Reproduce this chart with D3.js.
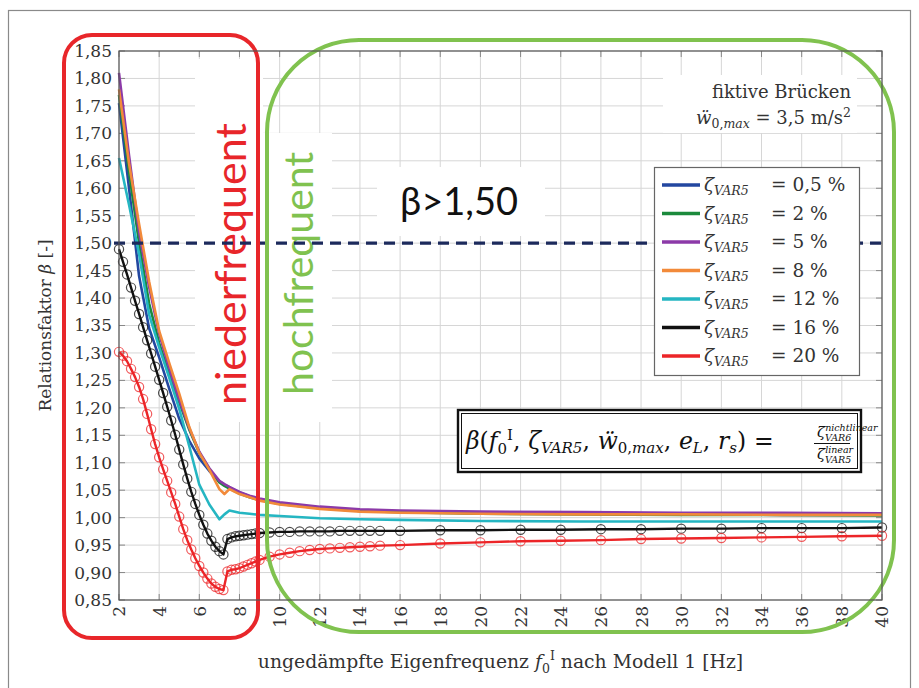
<!DOCTYPE html>
<html>
<head>
<meta charset="utf-8">
<script src="https://cdn.jsdelivr.net/npm/d3@7"></script>
<style>
  body { margin: 0; background: #fff; }
  svg { display: block; }
  .serif { font-family: "DejaVu Serif", serif; fill: #333; }
  .grid line { stroke: #d6d6d6; stroke-width: 1; }
  .tick-mark { stroke: #888; stroke-width: 1; }
</style>
</head>
<body>
<svg id="chart" width="919" height="688"></svg>
<script>
// frequencies for the plain (unmarked) curves
const fLines = [2, 2.5, 3, 3.5, 4, 4.5, 5, 5.5, 6, 6.5, 7, 7.25, 7.5, 8, 8.5, 9, 10, 12, 14, 16, 20, 25, 30, 35, 40];

const beta05 = [1.755, 1.600, 1.440, 1.345, 1.292, 1.235, 1.180, 1.140, 1.108, 1.085, 1.066, 1.060, 1.055, 1.046, 1.039, 1.033, 1.026, 1.018, 1.013, 1.011, 1.008, 1.007, 1.006, 1.005, 1.005];
const beta2 = [1.770, 1.630, 1.500, 1.390, 1.318, 1.262, 1.210, 1.160, 1.118, 1.088, 1.064, 1.058, 1.053, 1.044, 1.037, 1.032, 1.025, 1.017, 1.012, 1.010, 1.007, 1.006, 1.005, 1.005, 1.004];
const beta5 = [1.810, 1.660, 1.520, 1.420, 1.335, 1.272, 1.215, 1.163, 1.120, 1.090, 1.067, 1.061, 1.056, 1.047, 1.040, 1.035, 1.028, 1.020, 1.015, 1.013, 1.011, 1.010, 1.009, 1.009, 1.008];
const beta8 = [1.780, 1.645, 1.535, 1.430, 1.340, 1.282, 1.226, 1.165, 1.118, 1.087, 1.052, 1.043, 1.052, 1.043, 1.037, 1.031, 1.024, 1.016, 1.011, 1.009, 1.007, 1.006, 1.006, 1.005, 1.005];
const beta12 = [1.655, 1.570, 1.480, 1.370, 1.310, 1.255, 1.198, 1.130, 1.060, 1.024, 0.997, 1.006, 1.013, 1.009, 1.007, 1.005, 1.003, 0.999, 0.997, 0.996, 0.994, 0.993, 0.993, 0.993, 0.993];

// frequencies for the curves drawn with circle markers
const fMarked = [2.0, 2.2, 2.4, 2.6, 2.8, 3.0, 3.2, 3.4, 3.6, 3.8, 4.0, 4.2, 4.4, 4.6, 4.8, 5.0, 5.2, 5.4, 5.6, 5.8,
  6.0, 6.2, 6.4, 6.6, 6.8, 7.0, 7.2, 7.4, 7.6, 7.8, 8.0, 8.2, 8.4, 8.6, 8.8, 9.0,
  9.5, 10, 10.5, 11, 11.5, 12, 12.5, 13, 13.5, 14, 14.5, 15,
  16, 18, 20, 22, 24, 26, 28, 30, 32, 34, 36, 38, 40];

const beta16 = [1.489, 1.466, 1.443, 1.419, 1.395, 1.371, 1.347, 1.323, 1.299, 1.275, 1.251, 1.227, 1.202, 1.177, 1.151, 1.124, 1.097, 1.071, 1.047, 1.025,
  1.005, 0.987, 0.971, 0.958, 0.947, 0.939, 0.933, 0.961, 0.964, 0.966, 0.967, 0.968, 0.969, 0.970, 0.971, 0.972,
  0.973, 0.974, 0.974, 0.975, 0.975, 0.975, 0.975, 0.976, 0.976, 0.976, 0.976, 0.976,
  0.976, 0.977, 0.977, 0.978, 0.978, 0.979, 0.979, 0.980, 0.980, 0.981, 0.981, 0.981, 0.982];
const beta20 = [1.302, 1.295, 1.285, 1.271, 1.256, 1.238, 1.216, 1.189, 1.161, 1.134, 1.110, 1.088, 1.067, 1.046, 1.025, 1.002, 0.979, 0.959, 0.942, 0.926,
  0.912, 0.900, 0.889, 0.880, 0.874, 0.870, 0.868, 0.902, 0.905, 0.906, 0.908, 0.911, 0.914, 0.917, 0.920, 0.923,
  0.929, 0.933, 0.936, 0.939, 0.941, 0.943, 0.944, 0.945, 0.946, 0.947, 0.948, 0.949,
  0.950, 0.953, 0.955, 0.957, 0.958, 0.959, 0.961, 0.962, 0.963, 0.964, 0.965, 0.966, 0.967];

const zetaLabels = ["0,5", "2", "5", "8", "12", "16", "20"];
const zetaColors = ["#2347a0", "#1b8a3c", "#8c3aa8", "#f28a3a", "#25b6c2", "#111111", "#ec2528"];

const xTicks = [2, 4, 6, 8, 10, 12, 14, 16, 18, 20, 22, 24, 26, 28, 30, 32, 34, 36, 38, 40];
const yTicks = [0.85, 0.9, 0.95, 1.0, 1.05, 1.1, 1.15, 1.2, 1.25, 1.3, 1.35, 1.4, 1.45, 1.5, 1.55, 1.6, 1.65, 1.7, 1.75, 1.8, 1.85];
const betaLimit = 1.5;

const svg = d3.select("#chart");
const plot = { left: 119, top: 51, right: 882, bottom: 600 };

const x = d3.scaleLinear().domain([2, 40]).range([plot.left, plot.right]);
const y = d3.scaleLinear().domain([0.85, 1.85]).range([plot.bottom, plot.top]);

// outer frame
svg.append("rect")
  .attr("x", 8.5).attr("y", 10.5).attr("width", 902).attr("height", 700)
  .attr("fill", "none").attr("stroke", "#8a8a8a").attr("stroke-width", 1.2);

// grid
const grid = svg.append("g").attr("class", "grid");
grid.selectAll("line.v").data(xTicks).join("line").attr("class", "v")
  .attr("x1", (d) => x(d)).attr("x2", (d) => x(d))
  .attr("y1", plot.top).attr("y2", plot.bottom);
grid.selectAll("line.h").data(yTicks).join("line").attr("class", "h")
  .attr("x1", plot.left).attr("x2", plot.right)
  .attr("y1", (d) => y(d)).attr("y2", (d) => y(d));

// white backgrounds of the text nodes (they hide the grid)
const blanks = [
  [195, 59, 68, 363],
  [263, 133, 69, 289],
  [377, 167, 168, 69],
  [663, 75, 194, 58],
];
svg.append("g").selectAll("rect").data(blanks).join("rect")
  .attr("x", (d) => d[0]).attr("y", (d) => d[1])
  .attr("width", (d) => d[2]).attr("height", (d) => d[3])
  .attr("fill", "#fff");

// tick marks on all four sides
const tl = 6;
const ticks = svg.append("g");
xTicks.forEach((t) => {
  ticks.append("line").attr("class", "tick-mark")
    .attr("x1", x(t)).attr("x2", x(t)).attr("y1", plot.bottom).attr("y2", plot.bottom - tl);
  ticks.append("line").attr("class", "tick-mark")
    .attr("x1", x(t)).attr("x2", x(t)).attr("y1", plot.top).attr("y2", plot.top + tl);
});
yTicks.forEach((t) => {
  ticks.append("line").attr("class", "tick-mark")
    .attr("x1", plot.left).attr("x2", plot.left + tl).attr("y1", y(t)).attr("y2", y(t));
  ticks.append("line").attr("class", "tick-mark")
    .attr("x1", plot.right).attr("x2", plot.right - tl).attr("y1", y(t)).attr("y2", y(t));
});

// axes labels
const yAxisG = svg.append("g").attr("transform", `translate(${plot.left},0)`)
  .call(d3.axisLeft(y).tickValues(yTicks).tickSize(0).tickPadding(7)
    .tickFormat((d) => d.toFixed(2).replace(".", ",")));
yAxisG.select(".domain").remove();
yAxisG.selectAll("text").attr("class", "serif").style("font-size", "17px");

const xAxisG = svg.append("g").attr("transform", `translate(0,${plot.bottom})`)
  .call(d3.axisBottom(x).tickValues(xTicks).tickSize(0).tickFormat((d) => String(d)));
xAxisG.select(".domain").remove();
xAxisG.selectAll("text").attr("class", "serif").style("font-size", "17px")
  .attr("y", 0).attr("x", -6).attr("dy", "0.35em")
  .attr("transform", "rotate(-90)").style("text-anchor", "end");

// axis titles
svg.append("text").attr("class", "serif")
  .attr("transform", `translate(51,${(plot.top + plot.bottom) / 2}) rotate(-90)`)
  .attr("text-anchor", "middle").style("font-size", "17px")
  .call((t) => {
    t.append("tspan").text("Relationsfaktor ");
    t.append("tspan").style("font-style", "italic").text("β");
    t.append("tspan").text(" [-]");
  });

const xTitle = svg.append("text").attr("class", "serif")
  .attr("x", (plot.left + plot.right) / 2).attr("y", 668)
  .attr("text-anchor", "middle").style("font-size", "18.8px");
xTitle.append("tspan").text("ungedämpfte Eigenfrequenz ");
xTitle.append("tspan").style("font-style", "italic").text("f");
xTitle.append("tspan").attr("dy", 5).style("font-size", "12.5px").text("0");
xTitle.append("tspan").attr("dy", -13).style("font-size", "12.5px").text("I");
xTitle.append("tspan").attr("dy", 8).text(" nach Modell 1 [Hz]");

// curves
const line = d3.line().x((d) => x(d[0])).y((d) => y(d[1]));
const plainSeries = [beta05, beta2, beta5, beta8, beta12];
plainSeries.forEach((vals, i) => {
  svg.append("path")
    .datum(fLines.map((f, k) => [f, vals[k]]))
    .attr("d", line).attr("fill", "none")
    .attr("stroke", zetaColors[i]).attr("stroke-width", 2.6)
    .attr("stroke-linejoin", "round");
});

const markedSeries = [beta16, beta20];
markedSeries.forEach((vals, j) => {
  const col = zetaColors[5 + j];
  const pts = fMarked.map((f, k) => [f, vals[k]]);
  svg.append("path").datum(pts).attr("d", line).attr("fill", "none")
    .attr("stroke", col).attr("stroke-width", 2.4).attr("stroke-linejoin", "round");
  svg.append("g").selectAll("circle").data(pts).join("circle")
    .attr("cx", (d) => x(d[0])).attr("cy", (d) => y(d[1])).attr("r", 4.6)
    .attr("fill", "none").attr("stroke", col).attr("stroke-opacity", 0.75)
    .attr("stroke-width", 1.2);
});

// region labels
svg.append("text")
  .attr("transform", "translate(246,405) rotate(-90)")
  .style("font-family", "Lato, 'Open Sans', sans-serif").style("font-size", "43px")
  .attr("fill", "#e8262a").text("niederfrequent");
svg.append("text")
  .attr("transform", "translate(313,395) rotate(-90)")
  .style("font-family", "Lato, 'Open Sans', sans-serif").style("font-size", "41px")
  .attr("fill", "#80c24f").text("hochfrequent");

svg.append("text")
  .attr("x", 400).attr("y", 215)
  .style("font-family", "Lato, 'Open Sans', sans-serif").style("font-size", "38px")
  .attr("fill", "#111").text("β>1,50");

// annotation
svg.append("text").attr("class", "serif").attr("x", 851).attr("y", 98)
  .attr("text-anchor", "end").style("font-size", "18px").text("fiktive Brücken");
const ann = svg.append("text").attr("class", "serif").attr("x", 851).attr("y", 124)
  .attr("text-anchor", "end").style("font-size", "18px");
ann.append("tspan").style("font-style", "italic").text("ẅ");
ann.append("tspan").attr("dy", 4).style("font-size", "12.5px").text("0,");
ann.append("tspan").style("font-size", "12.5px").style("font-style", "italic").text("max");
ann.append("tspan").attr("dy", -4).text(" = 3,5 m/s");
ann.append("tspan").attr("dy", -7).style("font-size", "12.5px").text("2");

// limit line
svg.append("line")
  .attr("x1", plot.left - 5).attr("x2", plot.right)
  .attr("y1", y(betaLimit)).attr("y2", y(betaLimit))
  .attr("stroke", "#1c2a5c").attr("stroke-width", 3.4).attr("stroke-dasharray", "11 7");

// legend
const lg = svg.append("g");
lg.append("rect").attr("x", 654.5).attr("y", 167.5).attr("width", 205).attr("height", 208)
  .attr("fill", "#fff").attr("stroke", "#666").attr("stroke-width", 1.2);
zetaLabels.forEach((lab, i) => {
  const yy = 185 + i * 28.5;
  lg.append("line").attr("x1", 662).attr("x2", 700).attr("y1", yy).attr("y2", yy)
    .attr("stroke", zetaColors[i]).attr("stroke-width", 3.4);
  const t = lg.append("text").attr("class", "serif").attr("x", 704).attr("y", yy + 6)
    .style("font-size", "18.5px");
  t.append("tspan").style("font-style", "italic").text("ζ");
  t.append("tspan").attr("dy", 4).style("font-size", "12.5px").style("font-style", "italic").text("VAR5");
  t.append("tspan").attr("x", 771).attr("dy", -4).text(`= ${lab} %`);
});

// formula box
const fb = svg.append("g");
fb.append("rect").attr("x", 458).attr("y", 410).attr("width", 403).attr("height", 62)
  .attr("fill", "#fff").attr("stroke", "#111").attr("stroke-width", 2.4);
fb.append("rect").attr("x", 461.5).attr("y", 413.5).attr("width", 396).attr("height", 55)
  .attr("fill", "none").attr("stroke", "#111").attr("stroke-width", 1);
const ft = fb.append("text").attr("class", "serif").attr("x", 466).attr("y", 449)
  .style("font-size", "23.5px").style("fill", "#111");
const it = (s) => ft.append("tspan").style("font-style", "italic").text(s);
const sep = ",\u2004";
it("β");
ft.append("tspan").text("(");
it("f");
ft.append("tspan").attr("dy", 5).style("font-size", "15px").text("0");
ft.append("tspan").attr("dy", -14).style("font-size", "15px").text("I");
ft.append("tspan").attr("dy", 9).text(sep);
it("ζ");
ft.append("tspan").attr("dy", 4).style("font-size", "15px").style("font-style", "italic").text("VAR5");
ft.append("tspan").attr("dy", -4).text(sep);
it("ẅ");
ft.append("tspan").attr("dy", 4).style("font-size", "15px").text("0,");
ft.append("tspan").style("font-size", "15px").style("font-style", "italic").text("max");
ft.append("tspan").attr("dy", -4).text(sep);
it("e");
ft.append("tspan").attr("dy", 4).style("font-size", "15px").style("font-style", "italic").text("L");
ft.append("tspan").attr("dy", -4).text(sep);
it("r");
ft.append("tspan").attr("dy", 4).style("font-size", "15px").style("font-style", "italic").text("s");
ft.append("tspan").attr("dy", -4).text(")\u2004=");

function zetaFrac(yb, supTxt, subTxt) {
  const t = fb.append("text").attr("class", "serif").attr("x", 817).attr("y", yb)
    .style("font-size", "15px").style("fill", "#111");
  t.append("tspan").style("font-style", "italic").text("ζ");
  t.append("tspan").attr("dy", -6).style("font-size", "9.5px").style("font-style", "italic").text(supTxt);
  t.append("tspan").attr("x", 825).attr("dy", 10).style("font-size", "9.5px").style("font-style", "italic").text(subTxt);
}
zetaFrac(437, "nichtlinear", "VAR6");
fb.append("line").attr("x1", 814).attr("x2", 850).attr("y1", 443.5).attr("y2", 443.5)
  .attr("stroke", "#111").attr("stroke-width", 1);
zetaFrac(459, "linear", "VAR5");

// highlight frames
svg.append("rect").attr("x", 64).attr("y", 35).attr("width", 194).attr("height", 603)
  .attr("rx", 28).attr("fill", "none").attr("stroke", "#e8262a").attr("stroke-width", 4);
svg.append("rect").attr("x", 267).attr("y", 40).attr("width", 627).attr("height", 592)
  .attr("rx", 92).attr("fill", "none").attr("stroke", "#80c24f").attr("stroke-width", 4);

// plot border
svg.append("rect").attr("x", plot.left).attr("y", plot.top)
  .attr("width", plot.right - plot.left).attr("height", plot.bottom - plot.top)
  .attr("fill", "none").attr("stroke", "#555").attr("stroke-width", 1.2);
</script>
</body>
</html>
